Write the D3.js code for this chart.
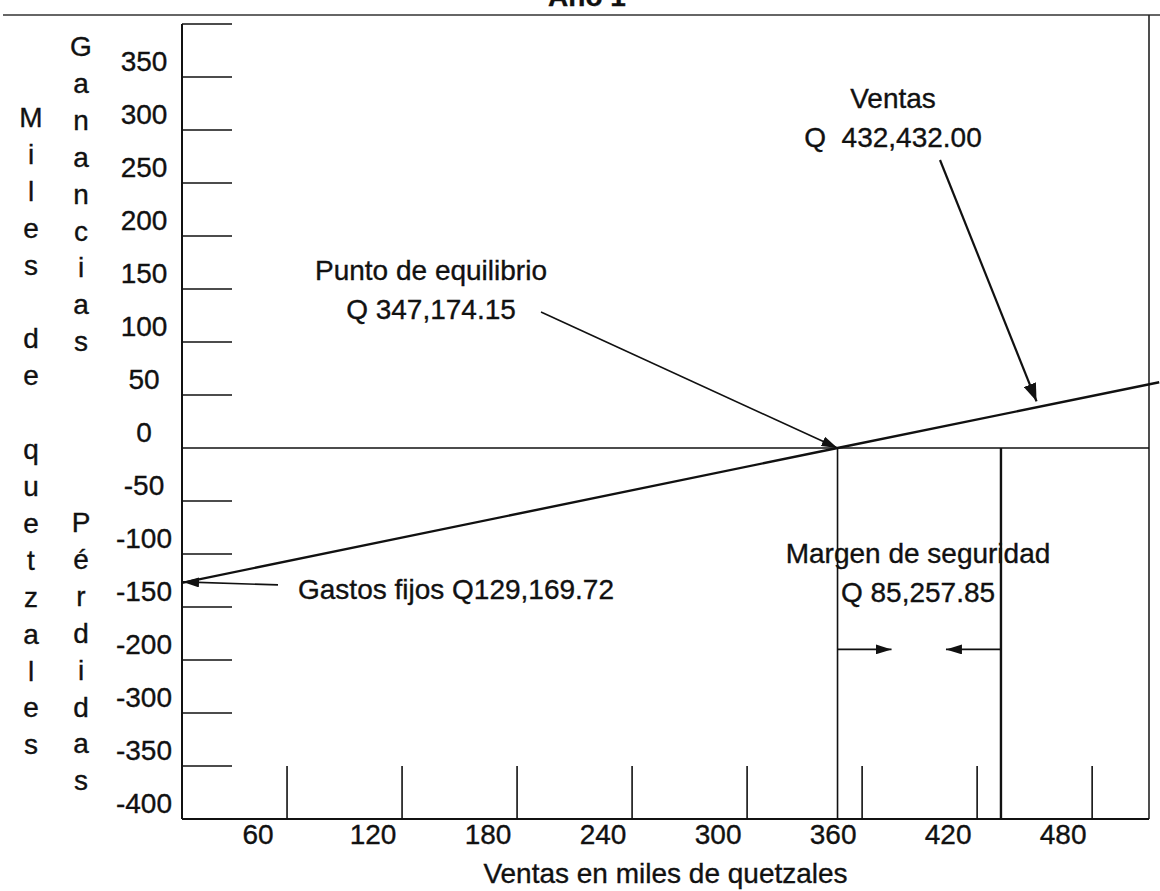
<!DOCTYPE html>
<html>
<head>
<meta charset="utf-8">
<script src="https://cdn.jsdelivr.net/npm/d3@7"></script>
<style>
  body { margin: 0; background: #fff; }
  text { font-family: "Liberation Sans", Arial, sans-serif; font-size: 28px; fill: #111; stroke: #111; stroke-width: 0.35; }
</style>
</head>
<body>
<svg id="chart" width="1160" height="891"></svg>
<script>
// values (miles de quetzales)
var xTicks = [60, 120, 180, 240, 300, 360, 420, 480];
var yTicks = [400, 350, 300, 250, 200, 150, 100, 50, 0, -50, -100, -150, -200, -250, -300, -350];
var yTickLabels = ["", "350", "300", "250", "200", "150", "100", "50", "0", "-50", "-100", "-150", "-200", "-300", "-350", "-400"];

var gastosFijos = 129.16972;
var puntoEquilibrio = 347.17415;
var ventas = 432.432;
var margenY = -190;

// ventas vs ganancia / perdida, from the y axis to the right edge
var lineaVentas = [[5.2, -127.2], [347.17, 0], [515, 62]];

var svg = d3.select('#chart');

var x = d3.scaleLinear().domain([5.2, 515.4]).range([182, 1160]);
var y = d3.scaleLinear().domain([-350, 400]).range([819, 24]);
var x0 = x.domain()[0];

var frameRight = 1149;
var frameTop = 15;

var defs = svg.append('defs');
function marker(id, w, h) {
  defs.append('marker')
    .attr('id', id)
    .attr('markerUnits', 'userSpaceOnUse')
    .attr('viewBox', '0 0 ' + w + ' ' + h)
    .attr('markerWidth', w)
    .attr('markerHeight', h)
    .attr('refX', w)
    .attr('refY', h / 2)
    .attr('orient', 'auto')
    .append('path')
    .attr('d', 'M0,0L' + w + ',' + (h / 2) + 'L0,' + h + 'Z')
    .attr('fill', '#111');
}
marker('arrow', 16, 10);
marker('arrowBig', 18, 13);

// title, mostly cut off at the top as in the scan
svg.append('text')
  .attr('x', 587).attr('y', 6)
  .attr('text-anchor', 'middle')
  .attr('font-weight', 'bold')
  .text('Año 1');

// frame
svg.append('line')
  .attr('x1', 3).attr('x2', 1160)
  .attr('y1', frameTop).attr('y2', frameTop)
  .attr('stroke', '#333').attr('stroke-width', 1.6);
svg.append('line')
  .attr('x1', frameRight).attr('x2', frameRight)
  .attr('y1', frameTop).attr('y2', y(-350))
  .attr('stroke', '#222').attr('stroke-width', 1.6);

// axes
svg.append('line')
  .attr('x1', x(x0)).attr('x2', x(x0))
  .attr('y1', y(400)).attr('y2', y(-350))
  .attr('stroke', '#111').attr('stroke-width', 2);
svg.append('line')
  .attr('x1', x(x0)).attr('x2', frameRight)
  .attr('y1', y(-350)).attr('y2', y(-350))
  .attr('stroke', '#111').attr('stroke-width', 2);
svg.append('line')
  .attr('x1', x(x0)).attr('x2', frameRight)
  .attr('y1', y(0)).attr('y2', y(0))
  .attr('stroke', '#111').attr('stroke-width', 1.6);

// y ticks and labels
svg.append('g').selectAll('line')
  .data(yTicks.filter(function (d) { return d !== 0; }))
  .enter().append('line')
  .attr('x1', x(x0)).attr('x2', x(x0) + 50)
  .attr('y1', function (d) { return y(d); })
  .attr('y2', function (d) { return y(d); })
  .attr('stroke', '#111').attr('stroke-width', 1.6);

svg.append('g').selectAll('text')
  .data(yTicks)
  .enter().append('text')
  .attr('x', 144)
  .attr('y', function (d) { return y(d) - 6; })
  .attr('text-anchor', 'middle')
  .text(function (d, i) { return yTickLabels[i]; });

// x ticks and labels
svg.append('g').selectAll('line')
  .data(xTicks)
  .enter().append('line')
  .attr('x1', function (d) { return x(d); })
  .attr('x2', function (d) { return x(d); })
  .attr('y1', y(-350)).attr('y2', y(-300))
  .attr('stroke', '#111').attr('stroke-width', 1.6);

svg.append('g').selectAll('text')
  .data(xTicks)
  .enter().append('text')
  .attr('x', function (d) { return x(d) - 29; })
  .attr('y', y(-350) + 25)
  .attr('text-anchor', 'middle')
  .text(function (d) { return d; });

svg.append('text')
  .attr('x', (x(x0) + frameRight) / 2)
  .attr('y', 883)
  .attr('text-anchor', 'middle')
  .text('Ventas en miles de quetzales');

// stacked axis titles on the left
var leftCols = [
  {text: 'Miles de quetzales', x: 31, y0: 127},
  {text: 'Ganancias', x: 81, y0: 56},
  {text: 'Pérdidas', x: 81, y0: 532}
];
leftCols.forEach(function (c) {
  svg.append('g').selectAll('text')
    .data(c.text.split(''))
    .enter().append('text')
    .attr('x', c.x)
    .attr('y', function (d, i) { return c.y0 + i * 36.9; })
    .attr('text-anchor', 'middle')
    .text(function (d) { return d; });
});

// vertical lines at break-even and sales
svg.append('line')
  .attr('x1', x(puntoEquilibrio)).attr('x2', x(puntoEquilibrio))
  .attr('y1', y(0)).attr('y2', y(-350))
  .attr('stroke', '#111').attr('stroke-width', 1.6);
svg.append('line')
  .attr('x1', x(ventas)).attr('x2', x(ventas))
  .attr('y1', y(0)).attr('y2', y(-350))
  .attr('stroke', '#111').attr('stroke-width', 2.4);

// profit / loss line
svg.append('path')
  .datum(lineaVentas)
  .attr('d', d3.line()
    .x(function (d) { return x(d[0]); })
    .y(function (d) { return y(d[1]); }))
  .attr('fill', 'none')
  .attr('stroke', '#111')
  .attr('stroke-width', 2.4);

// annotations
function arrow(x1, y1, x2, y2, w, m) {
  svg.append('line')
    .attr('x1', x1).attr('y1', y1)
    .attr('x2', x2).attr('y2', y2)
    .attr('stroke', '#111').attr('stroke-width', w)
    .attr('marker-end', 'url(#' + m + ')');
}
function label(lines, cx, y0, anchor) {
  lines.forEach(function (t, i) {
    svg.append('text')
      .attr('x', cx).attr('y', y0 + i * 39)
      .attr('text-anchor', anchor)
      .style('white-space', 'pre')
      .text(t);
  });
}

label(['Punto de equilibrio', 'Q 347,174.15'], 431, 280, 'middle');
arrow(541, 312, x(puntoEquilibrio), y(0), 1.6, 'arrow');

label(['Ventas', 'Q  432,432.00'], 893, 108, 'middle');
var vx = 451;
var vy = lineaVentas[1][1] + (vx - lineaVentas[1][0]) * (lineaVentas[2][1] - lineaVentas[1][1]) / (lineaVentas[2][0] - lineaVentas[1][0]);
arrow(940, 160, x(vx), y(vy) - 6, 2.2, 'arrowBig');

label(['Gastos fijos Q129,169.72'], 298, 599, 'start');
arrow(278, y(-gastosFijos), x(x0) + 1, y(-gastosFijos) - 3, 1.6, 'arrow');

label(['Margen de seguridad', 'Q 85,257.85'], 918, 563, 'middle');
arrow(x(puntoEquilibrio), y(margenY), x(puntoEquilibrio) + 54, y(margenY), 1.6, 'arrow');
arrow(x(ventas), y(margenY), x(ventas) - 55, y(margenY), 1.6, 'arrow');
</script>
</body>
</html>
